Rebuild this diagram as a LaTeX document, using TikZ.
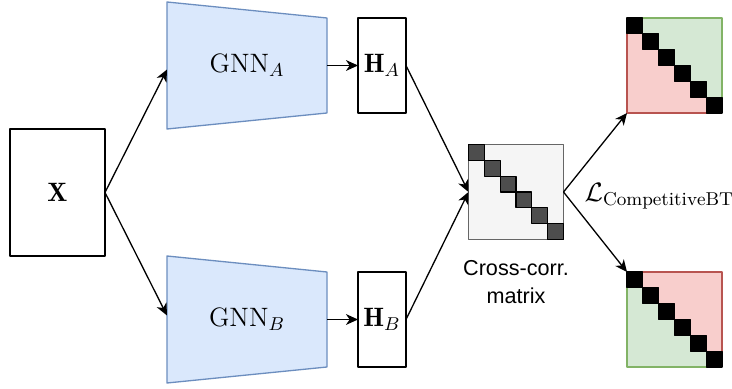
\RequirePackage{fix-cm}
\documentclass[tikz,border=0pt]{standalone}
\usepackage{fontspec}
\newfontfamily\labelfont{Liberation Sans}
\usetikzlibrary{arrows.meta,calc}
\definecolor{gnnfill}{HTML}{DAE8FC}
\definecolor{gnnline}{HTML}{6C8EBF}
\definecolor{posfill}{HTML}{D5E8D4}
\definecolor{posline}{HTML}{82B366}
\definecolor{negfill}{HTML}{F8CECC}
\definecolor{negline}{HTML}{B85450}
\definecolor{corrfill}{HTML}{F5F5F5}
\definecolor{corrline}{HTML}{666666}
\definecolor{celldark}{HTML}{4D4D4D}
\begin{document}
\begin{tikzpicture}[>={Stealth[length=6pt,width=5.4pt,inset=1.8pt]},line join=round,
	x=0.5pt,y=-0.5pt,line width=0.65pt,font=\fontsize{13.3}{16}\selectfont,
	plain/.style={draw,fill=white,inner sep=0pt,outer sep=0pt},
	gnnlbl/.style={inner sep=0pt,outer sep=0pt,minimum width=80pt,minimum height=63.5pt},
	gnnshape/.style={draw=gnnline,fill=gnnfill},
	mtx/.style={inner sep=0pt,outer sep=0pt,minimum size=47.5pt},
	cellmid/.style={draw=black,fill=celldark},
	cellout/.style={draw=black,fill=black}]
	\useasboundingbox (0,0) rectangle (732,389);
	\def\cell{15.833}
	% input
	\node[plain,minimum width=47.5pt,minimum height=63.5pt] (X) at (57.5,192.5) {$\mathbf{X}$};
	% encoders
	\coordinate (gA) at (247,65.5);
	\coordinate (gB) at (247,319.5);
	\filldraw[gnnshape] ($(gA)+(-80,-63.5)$) -- ($(gA)+(80,-47.5)$) -- ($(gA)+(80,47.5)$) -- ($(gA)+(-80,63.5)$) -- cycle;
	\filldraw[gnnshape] ($(gB)+(-80,-63.5)$) -- ($(gB)+(80,-47.5)$) -- ($(gB)+(80,47.5)$) -- ($(gB)+(-80,63.5)$) -- cycle;
	\node[gnnlbl] (gnnA) at (gA) {$\mathrm{GNN}_A$};
	\node[gnnlbl] (gnnB) at (gB) {$\mathrm{GNN}_B$};
	% embeddings
	\node[plain,minimum width=24pt,minimum height=47.5pt] (hA) at (382,65.5) {$\mathbf{H}_A$};
	\node[plain,minimum width=24pt,minimum height=47.5pt] (hB) at (382,319.5) {$\mathbf{H}_B$};
	% cross-correlation matrix
	\node[mtx,draw=corrline,fill=corrfill] (mat) at (516,192) {};
	\foreach \i in {0,...,5}
	\draw[cellmid] ($(mat.north west)+(\i*\cell,\i*\cell)$) rectangle ++(\cell,\cell);
	\node[align=center,font=\labelfont\fontsize{10.8}{14}\selectfont] (matlbl) at (516,282) {Cross-corr.\\matrix};
	% targets
	\node[mtx] (outA) at (674.5,65.5) {};
	\node[mtx] (outB) at (674.5,319.5) {};
	\fill[posfill] (outA.north west) -- (outA.north east) -- (outA.south east) -- cycle;
	\fill[negfill] (outA.north west) -- (outA.south west) -- (outA.south east) -- cycle;
	\draw[posline] (outA.north west) -- (outA.north east) -- (outA.south east);
	\draw[negline] (outA.north west) -- (outA.south west) -- (outA.south east);
	\fill[negfill] (outB.north west) -- (outB.north east) -- (outB.south east) -- cycle;
	\fill[posfill] (outB.north west) -- (outB.south west) -- (outB.south east) -- cycle;
	\draw[negline] (outB.north west) -- (outB.north east) -- (outB.south east);
	\draw[posline] (outB.north west) -- (outB.south west) -- (outB.south east);
	\foreach \i in {0,...,5}{
		\draw[cellout] ($(outA.north west)+(\i*\cell,\i*\cell)$) rectangle ++(\cell,\cell);
		\draw[cellout] ($(outB.north west)+(\i*\cell,\i*\cell)$) rectangle ++(\cell,\cell);
	}
	\node[anchor=west,inner sep=0pt] (loss) at (584,196) {$\mathcal{L}_{\mathrm{CompetitiveBT}}$};
	% connectors
	\draw[->] (X.east) -- ($(gnnA.west)+(0,4)$);
	\draw[->] (X.east) -- ($(gnnB.west)+(0,-4)$);
	\draw[->] (gnnA.east) -- (hA.west);
	\draw[->] (gnnB.east) -- (hB.west);
	\draw[->] (hA.east) -- (mat.west);
	\draw[->] (hB.east) -- (mat.west);
	\draw[->] (mat.east) -- (outA.south west);
	\draw[->] (mat.east) -- (outB.north west);
\end{tikzpicture}
\end{document}
